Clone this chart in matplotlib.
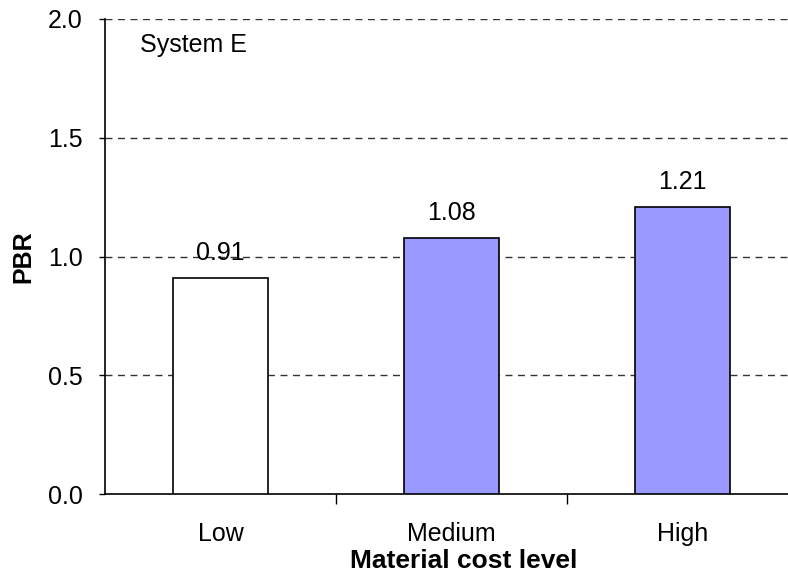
import matplotlib
matplotlib.use("Agg")
import matplotlib.pyplot as plt

categories = ["Low", "Medium", "High"]
values = [0.91, 1.08, 1.21]
value_labels = ["0.91", "1.08", "1.21"]
fill_colors = ["#FFFFFF", "#9999FF", "#9999FF"]
yticks = [0.0, 0.5, 1.0, 1.5, 2.0]

plt.rcParams['font.family'] = ['Liberation Sans', 'DejaVu Sans']
FS = 18

fig = plt.figure(figsize=(7.88, 5.75), dpi=100)
ax = fig.add_axes([105/788, 1-494/575, 1-105/788, (494-19)/575])

x = list(range(len(categories)))
ax.bar(x, values, width=0.41, color=fill_colors, edgecolor="black", linewidth=1.2, zorder=3)

for xi, v, lab in zip(x, values, value_labels):
    ax.annotate(lab, (xi, v), xytext=(0, 9), textcoords="offset points",
                ha="center", va="bottom", fontsize=FS, zorder=4)

ax.set_xlim(-0.5, 2.457)
ax.set_ylim(0, 2.0)
ax.set_yticks(yticks)
ax.set_yticklabels([f"{t:.1f}" for t in yticks], fontsize=FS)
ax.set_xticks(x)
ax.set_xticklabels(categories, fontsize=FS)
ax.set_xticks([0.5, 1.5], minor=True)
ax.tick_params(axis="x", which="major", length=0, pad=20)
ax.tick_params(axis="x", which="minor", length=7, width=1, direction="out")
ax.tick_params(axis="y", length=4, width=1, direction="out", pad=12)

for y in yticks[1:]:
    ax.axhline(y, color="#333333", linestyle=(0, (5, 4)), linewidth=1.0, zorder=1)

for s in ["top", "right"]:
    ax.spines[s].set_visible(False)
ax.spines["left"].set_linewidth(1.2)
ax.spines["bottom"].set_linewidth(1.2)

fig.text(464/788, 1.5/575, "Material cost level", fontsize=19, fontweight="bold",
         ha="center", va="bottom")
ax.set_ylabel("PBR", fontsize=FS, fontweight="bold", labelpad=9)
ax.text(140/788, 1-45/575, "System E", transform=fig.transFigure, fontsize=FS,
        ha="left", va="center")

fig.savefig("out.png", dpi=100)
